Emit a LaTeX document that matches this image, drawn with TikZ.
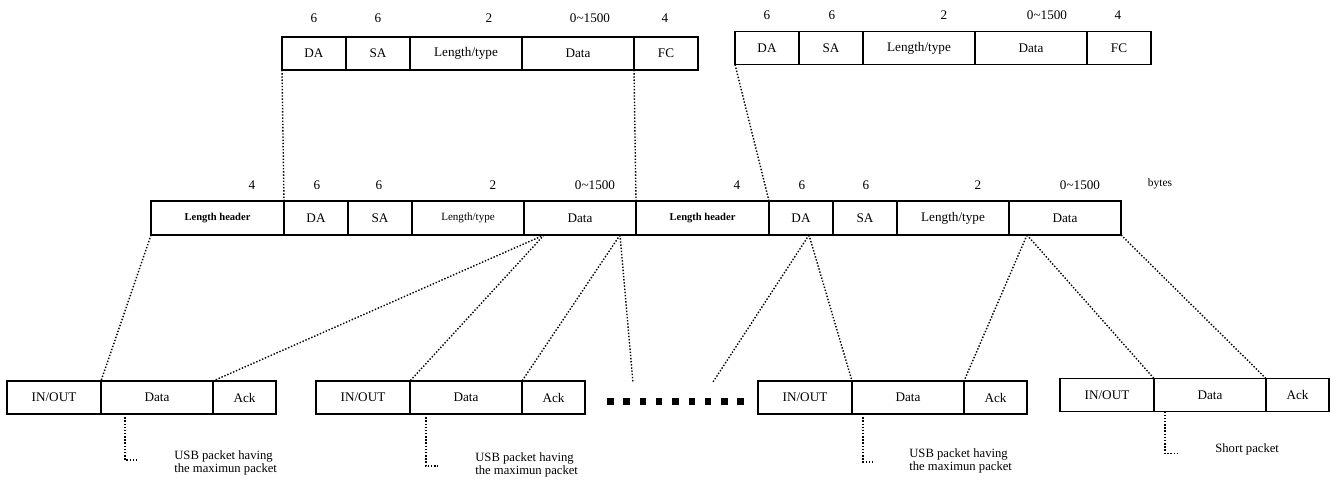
\documentclass[tikz,border=0pt]{standalone}
\usepackage{fontspec}
\setmainfont{Liberation Serif}
\usetikzlibrary{positioning}

\begin{document}
\begin{tikzpicture}[
    x=0.2mm, y=-0.2mm,
    cell/.style={
        draw, line width=1pt, outer sep=0pt, inner sep=0pt,
        minimum height=6.6mm, align=center,
        font=\fontsize{7.5}{8}\selectfont
    },
    narrow/.style={cell, minimum width=12.8mm},
    wide/.style={cell, minimum width=22.4mm},
    hdr/.style={cell, minimum width=26.6mm, minimum height=6.8mm,
        font=\fontsize{6}{7}\selectfont\bfseries},
    inout/.style={cell, minimum width=18.8mm},
    ack/.style={cell, minimum width=12.6mm},
    size/.style={font=\fontsize{7.5}{8}\selectfont, inner sep=0pt},
    note/.style={font=\fontsize{7.2}{7.8}\selectfont, align=left,
        anchor=west, inner sep=0pt},
    link/.style={line width=0.8pt, dash pattern=on 0.8pt off 1pt},
]
\useasboundingbox (0,0) rectangle (1336,482);

%% Ethernet frame 1
\node[narrow, anchor=west] (tDA) at (282,53.5) {DA};
\node[narrow, right=0pt of tDA] (tSA) {SA};
\node[wide, right=0pt of tSA] (tLen) {Length/type};
\node[wide, right=0pt of tLen] (tData) {Data};
\node[narrow, right=0pt of tData] (tFC) {FC};

\node[size] (tsz1) at (314,18) {6};
\node[size] (tsz2) at (378,18) {6};
\node[size] (tsz3) at (489,18) {2};
\node[size] (tsz4) at (590,18) {0\textasciitilde1500};
\node[size] (tsz5) at (665,18) {4};

%% Ethernet frame 2
\node[narrow, anchor=west] (t2DA) at (735,48) {DA};
\node[narrow, right=0pt of t2DA] (t2SA) {SA};
\node[wide, right=0pt of t2SA] (t2Len) {Length/type};
\node[wide, right=0pt of t2Len] (t2Data) {Data};
\node[narrow, right=0pt of t2Data] (t2FC) {FC};

\node[size] (t2sz1) at (767,15) {6};
\node[size] (t2sz2) at (832,15) {6};
\node[size] (t2sz3) at (944,15) {2};
\node[size] (t2sz4) at (1047,15) {0\textasciitilde1500};
\node[size] (t2sz5) at (1118,15) {4};

%% Stream with length headers
\node[hdr, anchor=west] (mLH) at (151,218) {Length header};
\node[narrow, minimum height=6.8mm, right=0pt of mLH] (mDA) {DA};
\node[narrow, minimum height=6.8mm, right=0pt of mDA] (mSA) {SA};
\node[wide, minimum height=6.8mm, right=0pt of mSA,
      font=\fontsize{6.3}{7}\selectfont] (mLen) {Length/type};
\node[wide, minimum height=6.8mm, right=0pt of mLen] (mData) {Data};
\node[hdr, right=0pt of mData] (mLHb) {Length header};
\node[narrow, minimum height=6.8mm, right=0pt of mLHb] (mDAb) {DA};
\node[narrow, minimum height=6.8mm, right=0pt of mDAb] (mSAb) {SA};
\node[wide, minimum height=6.8mm, right=0pt of mSAb] (mLenb) {Length/type};
\node[wide, minimum height=6.8mm, right=0pt of mLenb] (mDatab) {Data};

\node[size] (msz1) at (252,185) {4};
\node[size] (msz2) at (317,185) {6};
\node[size] (msz3) at (379,185) {6};
\node[size] (msz4) at (493,185) {2};
\node[size] (msz5) at (595,185) {0\textasciitilde1500};
\node[size] (msz6) at (737,185) {4};
\node[size] (msz7) at (802,185) {6};
\node[size] (msz8) at (866,185) {6};
\node[size] (msz9) at (978,185) {2};
\node[size] (msz10) at (1080,185) {0\textasciitilde1500};
\node[size, font=\fontsize{6.5}{7}\selectfont] (bytes) at (1160,184) {bytes};

%% USB packets
\node[inout, anchor=west] (b1IN) at (7,397.5) {IN/OUT};
\node[wide, right=0pt of b1IN] (b1Data) {Data};
\node[ack, right=0pt of b1Data] (b1Ack) {Ack};

\node[inout, anchor=west] (b2IN) at (316,397.5) {IN/OUT};
\node[wide, right=0pt of b2IN] (b2Data) {Data};
\node[ack, right=0pt of b2Data] (b2Ack) {Ack};

\node[inout, anchor=west] (b3IN) at (758,397.5) {IN/OUT};
\node[wide, right=0pt of b3IN] (b3Data) {Data};
\node[ack, right=0pt of b3Data] (b3Ack) {Ack};

\node[inout, anchor=west] (b4IN) at (1060,395) {IN/OUT};
\node[wide, right=0pt of b4IN] (b4Data) {Data};
\node[ack, right=0pt of b4Data] (b4Ack) {Ack};

%% gap between packets
\foreach \i in {0,...,8}
    \fill (607+\i*16.3,398) rectangle ++(6.5,6.5);

%% dotted mapping lines
\coordinate (fanA) at ([xshift=4mm]mData.south west);
\coordinate (fanB) at ([xshift=-3.2mm]mData.south east);
\coordinate (fanC) at ([xshift=8mm]mDAb.south west);
\coordinate (fanD) at ([xshift=3.6mm]mDatab.south west);
\coordinate (dotsL) at (633,383);
\coordinate (dotsR) at (713,382);

\draw[link] (tDA.south west) -- (mDA.north west);
\draw[link] (tData.south east) -- (mData.north east);
\draw[link] (t2DA.south west) -- (mDAb.north west);

\draw[link] (mLH.south west) -- (b1Data.north west);
\draw[link] (fanA) -- (b1Ack.north west);
\draw[link] (fanA) -- (b2Data.north west);
\draw[link] (fanB) -- (b2Ack.north west);
\draw[link] (fanB) -- (dotsL);
\draw[link] (fanC) -- (dotsR);
\draw[link] (fanC) -- (b3Data.north west);
\draw[link] (fanD) -- (b3Ack.north west);
\draw[link] (fanD) -- (b4Data.north west);
\draw[link] (mDatab.south east) -- (b4Ack.north west);

%% notes
\draw[link] ([xshift=4.8mm]b1Data.south west) -- ++(0,46) -- ++(13,0);
\node[note] (n1) at (174,463) {USB packet having\\the maximun packet};

\draw[link] ([xshift=3.2mm]b2Data.south west) -- ++(0,52) -- ++(12,0);
\node[note] (n2) at (475,465) {USB packet having\\the maximun packet};

\draw[link] ([xshift=2.2mm]b3Data.south west) -- ++(0,48) -- ++(12,0);
\node[note] (n3) at (909,461) {USB packet having\\the maximun packet};

\draw[link] ([xshift=2.2mm]b4Data.south west) -- ++(0,42) -- ++(13,0);
\node[note] (n4) at (1215,449) {Short packet};

\end{tikzpicture}
\end{document}
